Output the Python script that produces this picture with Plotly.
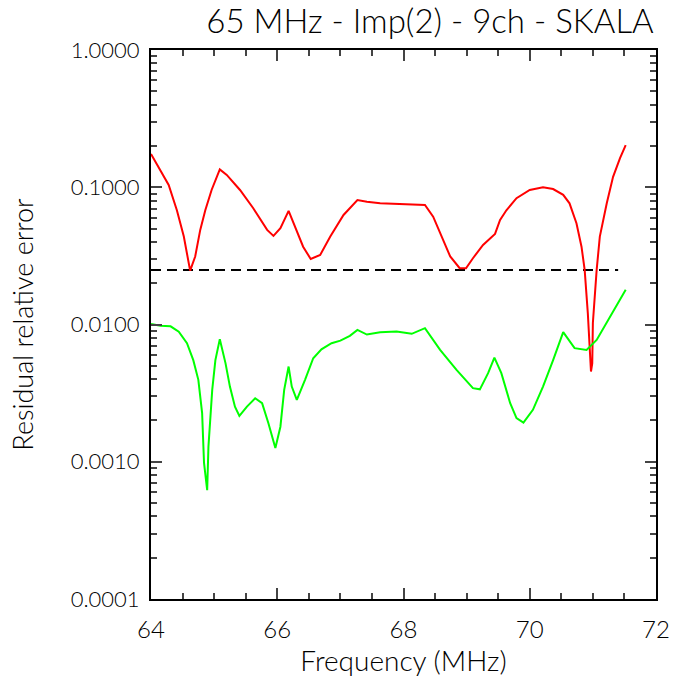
import plotly.graph_objects as go

# Red curve (residual relative error, first solution)
freq_red = [64.0, 64.15, 64.28, 64.41, 64.52, 64.62, 64.70, 64.78, 64.86, 64.96, 65.09, 65.2, 65.41,
            65.62, 65.84, 65.94, 66.05, 66.18, 66.28, 66.41, 66.53, 66.68, 66.84, 67.05, 67.27,
            67.42, 67.63, 67.94, 68.13, 68.34, 68.47, 68.6, 68.74, 68.89, 68.99, 69.10, 69.26,
            69.45, 69.53, 69.63, 69.79, 70.0, 70.21, 70.37, 70.53, 70.63, 70.74, 70.82, 70.87,
            70.92, 70.95, 70.97, 70.99, 71.0, 71.06, 71.11, 71.22, 71.32, 71.43, 71.52]
err_red = [0.175, 0.134, 0.104, 0.068, 0.0437, 0.0247, 0.0313, 0.0489, 0.068, 0.0955, 0.135, 0.123, 0.0955,
           0.0703, 0.0489, 0.0442, 0.0503, 0.0672, 0.0516, 0.0369, 0.030, 0.0321, 0.0437, 0.0628, 0.0808,
           0.0785, 0.0765, 0.0756, 0.0756, 0.0743, 0.061, 0.0437, 0.0313, 0.0257, 0.0257, 0.0304, 0.038,
           0.0457, 0.0578, 0.068, 0.0832, 0.0955, 0.1, 0.097, 0.088, 0.0764, 0.0547, 0.0369, 0.025,
           0.0121, 0.00584, 0.00454, 0.0052, 0.0103, 0.025, 0.0437, 0.0764, 0.119, 0.163, 0.203]

# Green curve (residual relative error, second solution)
freq_green = [64.0, 64.15, 64.31, 64.44, 64.57, 64.67, 64.75, 64.81, 64.84, 64.89, 64.91, 64.97, 65.02,
              65.09, 65.18, 65.25, 65.33, 65.4, 65.52, 65.65, 65.76, 65.86, 65.97, 66.05, 66.11,
              66.18, 66.23, 66.31, 66.44, 66.57, 66.7, 66.86, 67.0, 67.15, 67.27, 67.42, 67.63,
              67.89, 68.13, 68.34, 68.58, 68.84, 69.10, 69.21, 69.34, 69.44, 69.55, 69.69, 69.79,
              69.9, 70.05, 70.21, 70.37, 70.53, 70.71, 70.9, 71.06, 71.27, 71.52]
err_green = [0.0101, 0.0098, 0.0097, 0.00887, 0.0073, 0.0055, 0.00395, 0.00226, 0.00098, 0.00062, 0.00129, 0.00334, 0.0055,
             0.00782, 0.00523, 0.00353, 0.00252, 0.00216, 0.00252, 0.0029, 0.00267, 0.00191, 0.00126, 0.0018, 0.00334,
             0.00494, 0.00353, 0.00282, 0.00395, 0.00568, 0.0066, 0.0073, 0.00763, 0.00826, 0.00914, 0.00845, 0.00879,
             0.0089, 0.00855, 0.0094, 0.00653, 0.00467, 0.00344, 0.00337, 0.00442, 0.00574, 0.00442, 0.00267, 0.00208,
             0.00193, 0.00239, 0.00353, 0.0055, 0.00879, 0.00672, 0.00653, 0.00772, 0.0114, 0.0179]

# Reference level (dashed)
ref_freq = [64.0, 71.4]
ref_level = [0.025, 0.025]

ytick_vals = [0.0001, 0.001, 0.01, 0.1, 1.0]
ytick_text = ["0.0001", "0.0010", "0.0100", "0.1000", "1.0000"]
xtick_vals = [64, 66, 68, 70, 72]

FONT = "Lato, Roboto, Liberation Sans, sans-serif"

fig = go.Figure()
fig.add_trace(go.Scatter(x=ref_freq, y=ref_level, mode="lines",
                         line=dict(color="black", width=2, dash="10px,6px"), showlegend=False))
fig.add_trace(go.Scatter(x=freq_red, y=err_red, mode="lines",
                         line=dict(color="#ff0000", width=2), showlegend=False))
fig.add_trace(go.Scatter(x=freq_green, y=err_green, mode="lines",
                         line=dict(color="#00ff00", width=2), showlegend=False))

fig.update_layout(
    width=700, height=700,
    paper_bgcolor="white", plot_bgcolor="white",
    margin=dict(l=151, r=44, t=50, b=101),
    font=dict(family=FONT, color="black", size=22, weight=300),
    title=dict(text="65 MHz - Imp(2) - 9ch - SKALA", x=(430 - 151) / 505, xref="paper", xanchor="center",
               y=1 - 21 / 700, yanchor="middle", font=dict(size=33, family=FONT, weight=300)),
    xaxis=dict(range=[64, 72], tickvals=xtick_vals, ticks="inside", ticklen=11, tickwidth=1.5,
               showline=True, linecolor="black", linewidth=2, mirror="ticks", showgrid=False,
               zeroline=False, ticklabelstandoff=8, tickfont=dict(size=24, weight=300),
               minor=dict(dtick=0.5, ticks="inside", ticklen=6, tickwidth=1.5, showgrid=False),
               title=dict(text="Frequency (MHz)", font=dict(size=28, weight=300), standoff=2)),
    yaxis=dict(type="log", range=[-4, 0], tickvals=ytick_vals, ticktext=ytick_text,
               ticks="inside", ticklen=11, tickwidth=1.5,
               showline=True, linecolor="black", linewidth=2, mirror="ticks", showgrid=False,
               zeroline=False, ticklabelstandoff=5, tickfont=dict(size=22, weight=300),
               minor=dict(dtick="D1", ticks="inside", ticklen=6, tickwidth=1.5, showgrid=False),
               title=dict(text="Residual relative error", font=dict(size=27, weight=300), standoff=29)),
)

fig.write_html("out.html")
